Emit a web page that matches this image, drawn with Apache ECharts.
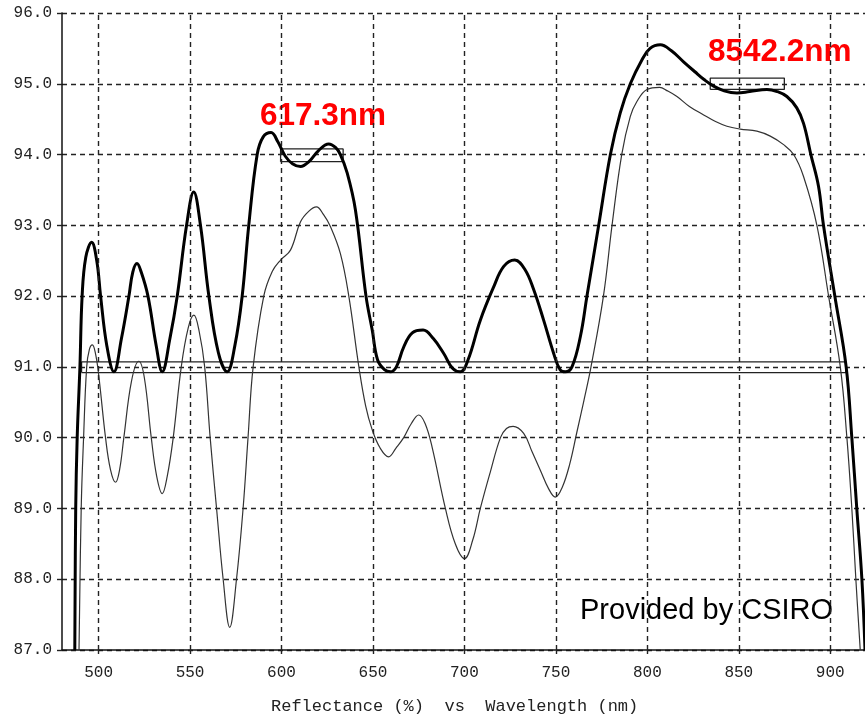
<!DOCTYPE html>
<html>
<head>
<meta charset="utf-8">
<script src="https://cdn.jsdelivr.net/npm/echarts@6/dist/echarts.min.js"></script>
<style>
html,body{margin:0;padding:0;background:#fff;}
#chart{width:865px;height:717px;}
</style>
</head>
<body>
<div id="chart"></div>
<script>
// ---- data (wavelength nm, reflectance %) ----
const designCurve = [
  [487.0,87.0],[487.5,89.0],[488.3,90.0],[489.8,91.0],[491.0,92.0],[493.0,92.55],[496.2,92.76],
  [499.0,92.5],[501.1,92.0],[504.5,91.3],[508.4,90.93],[512.5,91.4],[516.6,92.0],[518.7,92.34],[521.0,92.46],
  [523.3,92.34],[527.0,92.0],[531.5,91.3],[534.8,90.93],[539.0,91.4],[543.0,92.0],[548.1,93.0],
  [552.0,93.47],[555.7,93.0],[560.3,92.0],[565.5,91.2],[570.3,90.93],[574.5,91.3],[578.5,92.0],
  [582.1,93.0],[586.7,94.0],[590.0,94.25],[594.3,94.31],[598.0,94.18],[602.0,93.98],[606.0,93.87],
  [610.4,93.83],[615.0,93.9],[620.0,94.05],[625.8,94.15],[629.5,94.1],[632.2,94.0],[635.9,93.74],
  [640.4,93.22],[646.2,92.0],[649.6,91.52],[652.5,91.1],[656.3,90.96],[659.6,90.93],[662.8,91.0],
  [666.8,91.28],[671.5,91.48],[677.4,91.52],[683.0,91.4],[688.7,91.19],[693.5,90.98],[697.8,90.93],
  [702.0,91.1],[708.7,91.66],[716.0,92.13],[721.5,92.42],[727.5,92.51],[733.0,92.38],[737.9,92.09],
  [743.3,91.66],[748.8,91.19],[752.3,90.96],[755.2,90.93],[758.8,91.0],[763.4,91.43],[767.0,92.0],
  [773.4,93.0],[779.8,94.0],[785.2,94.59],[790.7,95.0],[797.1,95.34],[801.5,95.5],[807.1,95.55],
  [813.0,95.47],[819.8,95.31],[826.0,95.17],[831.0,95.06],[836.0,94.97],[842.0,94.9],[849.0,94.87],
  [856.0,94.89],[865.4,94.92],[871.0,94.89],[876.3,94.82],[881.7,94.66],[885.4,94.44],[889.4,94.0],
  [893.6,93.55],[896.3,93.0],[902.5,92.0],[908.7,91.0],[911.8,90.0],[914.5,89.0],[917.3,88.0],[919.0,87.0]
];
const measuredCurve = [
  [489.3,87.0],[490.5,89.0],[491.8,90.0],[493.5,91.0],[495.0,91.25],[496.6,91.31],[498.2,91.2],
  [500.0,90.9],[503.8,90.0],[506.5,89.55],[509.3,89.37],[511.5,89.55],[513.8,90.0],[518.0,90.8],
  [522.0,91.08],[525.0,90.85],[528.8,90.0],[531.8,89.45],[534.8,89.21],[537.5,89.45],[540.8,90.0],
  [545.2,91.0],[549.0,91.55],[552.1,91.73],[555.0,91.5],[558.0,91.0],[561.0,90.0],[564.5,89.0],
  [568.1,88.0],[571.7,87.32],[575.4,88.0],[579.0,89.0],[581.7,90.0],[584.5,91.0],[590.3,92.0],
  [595.0,92.35],[599.5,92.51],[604.9,92.65],[610.4,93.05],[615.0,93.2],[619.1,93.26],[623.0,93.15],
  [626.8,92.98],[632.2,92.6],[636.8,92.0],[642.3,91.0],[646.0,90.45],[649.6,90.11],[654.0,89.85],
  [658.6,89.73],[662.5,89.85],[666.8,90.0],[671.0,90.2],[675.0,90.32],[678.5,90.2],[682.3,89.87],
  [689.6,89.0],[695.0,88.5],[700.0,88.29],[704.5,88.55],[708.7,89.0],[714.0,89.5],[719.7,90.0],
  [723.0,90.13],[726.6,90.16],[732.4,90.06],[737.0,89.8],[741.5,89.54],[746.0,89.28],[749.7,89.16],
  [753.5,89.3],[757.5,89.62],[761.5,90.08],[765.3,90.52],[769.2,91.0],[776.0,92.0],[780.7,93.0],
  [786.0,94.0],[790.7,94.54],[794.3,94.75],[799.8,94.92],[806.7,94.95],[811.0,94.9],[816.2,94.82],
  [823.0,94.68],[830.8,94.56],[837.0,94.47],[843.5,94.40],[850.8,94.36],[859.9,94.33],[867.2,94.26],
  [874.5,94.14],[880.0,94.0],[885.4,93.69],[892.7,93.0],[899.1,92.0],[905.5,91.0],[909.1,90.0],
  [911.8,89.0],[914.0,88.0],[916.4,87.0]
];
// marker boxes: [xStart, xEnd], [yLow, yHigh]
const bandBoxX = [490.7, 908.5];
const bandBoxY = [90.92, 91.07];
const peakBoxX = [599.5, 633.7];
const peakBoxY = [93.90, 94.08];
const shoulderBoxX = [834.4, 874.9];
const shoulderBoxY = [94.92, 95.08];
// axis ticks
const xTicks = [500, 550, 600, 650, 700, 750, 800, 850, 900];
const yMin = 87, yMax = 96;
const xMin = 480, xMax = 919;
// annotation texts
const label1 = '617.3nm';
const label2 = '8542.2nm';
const creditText = 'Provided by CSIRO';
const axisTitle = 'Reflectance (%)  vs  Wavelength (nm)';

function rect(xs, ys) {
  return [[xs[0], ys[0]], [xs[1], ys[0]], [xs[1], ys[1]], [xs[0], ys[1]], [xs[0], ys[0]]];
}

const mono = '"Liberation Mono","Courier New",monospace';
const gridDash = { color: '#222', width: 1.4, type: [5, 4] };

const chart = echarts.init(document.getElementById('chart'), null, { renderer: 'canvas' });
chart.setOption({
  animation: false,
  backgroundColor: '#fff',
  grid: { left: 62, right: 0, top: 13, bottom: 67, containLabel: false },
  xAxis: {
    type: 'value', min: xMin, max: xMax,
    axisLine: { show: true, onZero: false, lineStyle: { color: '#111', width: 1.5 } },
    axisTick: { show: true, customValues: xTicks, length: 4, lineStyle: { color: '#222', width: 1.4 } },
    axisLabel: { customValues: xTicks, margin: 15, color: '#222', fontFamily: mono, fontSize: 16 },
    splitLine: { show: false }
  },
  yAxis: {
    type: 'value', min: yMin, max: yMax, interval: 1,
    axisLine: { show: true, lineStyle: { color: '#111', width: 1.5 } },
    axisTick: { show: true, length: 5, lineStyle: { color: '#222', width: 1.4 } },
    axisLabel: { margin: 10, color: '#222', fontFamily: mono, fontSize: 16,
      formatter: v => v.toFixed(1) },
    splitLine: { show: true, lineStyle: gridDash }
  },
  series: [
    {
      type: 'line', name: 'grid', data: [], silent: true, z: 1,
      markLine: {
        silent: true, symbol: 'none', label: { show: false },
        lineStyle: gridDash, emphasis: { disabled: true },
        data: xTicks.map(v => ({ xAxis: v }))
      }
    },
    {
      type: 'line', name: 'bandBox', data: rect(bandBoxX, bandBoxY), showSymbol: false, silent: true, z: 2,
      lineStyle: { color: '#222', width: 1.3 }
    },
    {
      type: 'line', name: 'peakBox', data: rect(peakBoxX, peakBoxY), showSymbol: false, silent: true, z: 2,
      lineStyle: { color: '#222', width: 1.3 }
    },
    {
      type: 'line', name: 'shoulderBox', data: rect(shoulderBoxX, shoulderBoxY), showSymbol: false, silent: true, z: 2,
      lineStyle: { color: '#222', width: 1.3 }
    },
    {
      type: 'line', name: 'measured', data: measuredCurve, showSymbol: false, smooth: 0.4, clip: true, z: 3,
      lineStyle: { color: '#333', width: 1.2 }
    },
    {
      type: 'line', name: 'design', data: designCurve, showSymbol: false, smooth: 0.4, clip: true, z: 4,
      lineStyle: { color: '#000', width: 3 }
    }
  ],
  graphic: [
    { type: 'text', left: 260, top: 100, silent: true,
      style: { text: label1, fill: '#ff0000', font: 'bold 31.5px "Liberation Sans", Arial, sans-serif' } },
    { type: 'text', left: 708, top: 36, silent: true,
      style: { text: label2, fill: '#ff0000', font: 'bold 31.5px "Liberation Sans", Arial, sans-serif' } },
    { type: 'text', left: 580, top: 596, silent: true,
      style: { text: creditText, fill: '#000', font: '29px "Liberation Sans", Arial, sans-serif' } },
    { type: 'text', left: 271, top: 698, silent: true,
      style: { text: axisTitle, fill: '#222', font: '17px "Liberation Mono","Courier New",monospace' } }
  ]
});
</script>
</body>
</html>
